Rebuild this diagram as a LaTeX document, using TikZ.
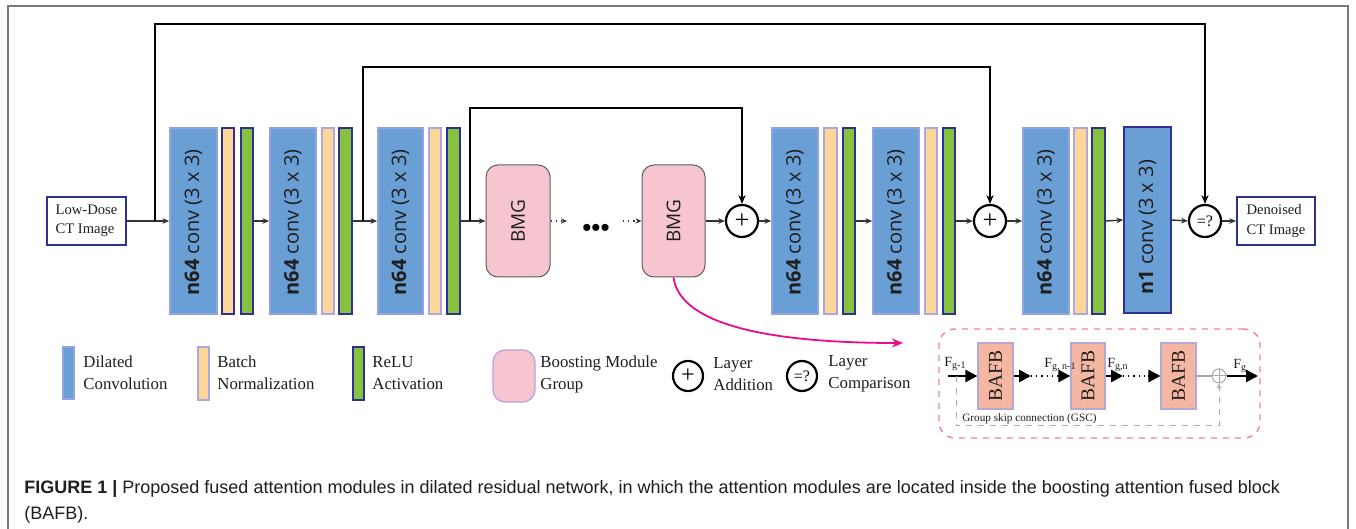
\documentclass[tikz,border=0pt]{standalone}
\usepackage{fontspec}
\setmainfont{Liberation Serif}
\newfontfamily\convfont{Open Sans}
\newfontfamily\capfont{Liberation Sans}
\usetikzlibrary{arrows.meta,fit}

\definecolor{convblue}{HTML}{6A9FD5}
\definecolor{convedge}{HTML}{93A3E2}
\definecolor{navy}{HTML}{2E3192}
\definecolor{bnyellow}{HTML}{FFD699}
\definecolor{bnedge}{HTML}{ADA6DF}
\definecolor{relugreen}{HTML}{86C13F}
\definecolor{bmgpink}{HTML}{F7C5D0}
\definecolor{bmgedge}{HTML}{5E5E5E}
\definecolor{legpinkedge}{HTML}{B7A3DC}
\definecolor{bafbfill}{HTML}{F5B7A2}
\definecolor{bafbedge}{HTML}{B3A9D8}
\definecolor{magentaline}{HTML}{EC0B8D}
\definecolor{insetpink}{HTML}{F27BB5}
\definecolor{framegray}{HTML}{7A7A7A}
\definecolor{wiregray}{HTML}{333333}
\definecolor{txtdark}{HTML}{1E1E1E}
\definecolor{skipgray}{HTML}{A8A8A8}

\begin{document}
\begin{tikzpicture}[x=0.5pt,y=-0.5pt,
  frame/.style={draw=framegray, line width=0.8pt},
  wire/.style={draw=wiregray, line width=0.7pt},
  arr/.style={wire, -{Stealth[length=3.4pt,width=2.8pt]}},
  dotarr/.style={draw=wiregray, line width=0.6pt, dotted, -{Stealth[length=3pt,width=2.6pt]}},
  skiparr/.style={draw=black, line width=0.7pt, -{Stealth[length=4.4pt,width=3.6pt]}},
  convbox/.style={fill=convblue, draw=convedge, line width=0.8pt, inner sep=0pt},
  convlast/.style={convbox, draw=navy},
  bnbox/.style={fill=bnyellow, draw=bnedge, line width=0.8pt, inner sep=0pt},
  bnfirst/.style={bnbox, draw=navy},
  relubox/.style={fill=relugreen, draw=navy, line width=0.8pt, inner sep=0pt},
  bmgbox/.style={fill=bmgpink, draw=bmgedge, line width=0.5pt, rounded corners=6pt, inner sep=0pt},
  imgbox/.style={draw=navy, line width=0.9pt, fill=white, inner sep=0pt},
  imgtxt/.style={font=\fontsize{7.3}{9.6}\selectfont, align=left, text=txtdark},
  convlbl/.style={rotate=90, anchor=west, inner sep=0pt,
    font=\convfont\fontsize{10}{12}\selectfont, text=txtdark},
  bmglbl/.style={rotate=90, inner sep=0pt, font=\convfont\fontsize{9.5}{11}\selectfont, text=txtdark},
  opnode/.style={circle, draw=black, line width=1.1pt, minimum size=16pt, inner sep=0pt, fill=white},
  legtxt/.style={anchor=west, inner sep=0pt, align=left, text=txtdark,
    font=\fontsize{8.4}{11}\selectfont},
  bafbbox/.style={fill=bafbfill, draw=bafbedge, line width=0.6pt, inner sep=0pt},
  bafblbl/.style={rotate=90, inner sep=0pt, font=\fontsize{9.8}{11}\selectfont, text=txtdark},
  bigarr/.style={draw=black, line width=1.3pt, -{Triangle[length=6pt,width=6pt]}},
  flbl/.style={inner sep=0pt, anchor=base west, font=\fontsize{7}{8}\selectfont, text=txtdark},
  captxt/.style={anchor=base west, inner sep=0pt, text=txtdark,
    font=\capfont\fontsize{9}{12.5}\selectfont}
]
\useasboundingbox (0,0) rectangle (1356,529);
\fill[white] (0,0) rectangle (1356,529);

% outer frame (open at the bottom)
\draw[frame] (8,529) -- (8,6) -- (1348,6) -- (1348,529);

% ---------- main network ----------
\node[imgbox, fit={(47,197) (126,245)}] (ld) {};
\node[imgtxt] at (ld.center) {Low-Dose\\CT Image};

\node[convbox, fit={(170,128) (217,314)}] (c1) {};
\node[bnfirst, fit={(222,128) (234,314)}] (b1) {};
\node[relubox, fit={(241,128) (253,314)}] (r1) {};

\node[convbox, fit={(270,128) (316,314)}] (c2) {};
\node[bnbox, fit={(322,128) (334,314)}] (b2) {};
\node[relubox, fit={(339,128) (352,314)}] (r2) {};

\node[convbox, fit={(378,128) (423,314)}] (c3) {};
\node[bnbox, fit={(429,128) (441,314)}] (b3) {};
\node[relubox, fit={(447,128) (460,314)}] (r3) {};

\node[bmgbox, fit={(486,165) (550,277)}] (g1) {};
\node[bmgbox, fit={(642,165) (705,277)}] (g2) {};
\node[bmglbl] at (g1.center) {BMG};
\node[bmglbl] at (g2.center) {BMG};
\node[inner sep=0pt, font=\capfont\fontsize{13}{13}\selectfont] (dots) at (596,230) {•••};

\node[opnode] (add1) at (742,221) {};
\node[font=\fontsize{13}{13}\selectfont, inner sep=0pt] at (add1.center) {+};

\node[convbox, fit={(772,128) (818,314)}] (c4) {};
\node[bnbox, fit={(824,128) (837,314)}] (b4) {};
\node[relubox, fit={(843,128) (855,314)}] (r4) {};

\node[convbox, fit={(873,128) (919,314)}] (c5) {};
\node[bnbox, fit={(925,128) (937,314)}] (b5) {};
\node[relubox, fit={(943,128) (955,314)}] (r5) {};

\node[opnode] (add2) at (990,221) {};
\node[font=\fontsize{13}{13}\selectfont, inner sep=0pt] at (add2.center) {+};

\node[convbox, fit={(1023,128) (1069,314)}] (c6) {};
\node[bnbox, fit={(1074,128) (1087,314)}] (b6) {};
\node[relubox, fit={(1092,128) (1105,314)}] (r6) {};

\node[convlast, fit={(1124,127) (1171,313)}] (c7) {};

\node[opnode] (cmp) at (1205,221) {};
\node[font=\fontsize{8}{8}\selectfont, inner sep=0pt] at (cmp.center) {=?};

\node[imgbox, fit={(1237,197) (1315,245)}] (out) {};
\node[imgtxt] at (out.center) {Denoised\\CT Image};

% layer labels, read from bottom to top
\foreach \c in {c1,c2,c3,c4,c5,c6}
  \node[convlbl] at ([yshift=9.5pt]\c.south) {\textbf{n64} conv (3 x 3)};
\node[convlbl] at ([yshift=9.5pt]c7.south) {\textbf{n1} conv (3 x 3)};

% forward connections
\draw[arr] (ld.east) -- (c1.west);
\draw[arr] (r1.east) -- (c2.west);
\draw[arr] (r2.east) -- (c3.west);
\draw[arr] (r3.east) -- (g1.west);
\coordinate (g1out) at (567,221);
\coordinate (g2in) at (623,221);
\draw[dotarr] (g1.east) -- (g1out);
\draw[dotarr] (g2in) -- (g2.west);
\draw[arr] (g2.east) -- (add1.west);
\draw[arr] (add1.east) -- (c4.west);
\draw[arr] (r4.east) -- (c5.west);
\draw[arr] (r5.east) -- (add2.west);
\draw[arr] (add2.east) -- (c6.west);
\draw[arr] (r6.east) -- (c7.west);
\draw[arr] (c7.east) -- (cmp.west);
\draw[arr] (cmp.east) -- (out.west);

% skip connections
\coordinate (s1) at (155,221);
\coordinate (s1top) at (155,24);
\coordinate (s2) at (363,221);
\coordinate (s2top) at (363,67);
\coordinate (s3) at (470,221);
\coordinate (s3top) at (470,108);
\draw[skiparr] (s1) -- (s1top) -| (cmp.north);
\draw[skiparr] (s2) -- (s2top) -| (add2.north);
\draw[skiparr] (s3) -- (s3top) -| (add1.north);

% ---------- zoom-in of a boosting module group ----------
\coordinate (magend) at (903,343);
\draw[magentaline, line width=0.9pt, -{Stealth[length=5.5pt,width=4.5pt]}]
  (g2.south) .. controls (680,325) and (770,343) .. (magend);

\node[draw=insetpink, dashed, line width=0.7pt, rounded corners=8pt, inner sep=0pt,
      fit={(939,329) (1260,438)}] (inset) {};

\node[bafbbox, fit={(978,343) (1013,409)}] (f1) {};
\node[bafbbox, fit={(1071,343) (1105,409)}] (f2) {};
\node[bafbbox, fit={(1161,343) (1196,409)}] (f3) {};
\node[bafblbl] at (f1.center) {BAFB};
\node[bafblbl] at (f2.center) {BAFB};
\node[bafblbl] at (f3.center) {BAFB};

\node[circle, draw=skipgray, line width=0.5pt, minimum size=7pt, inner sep=0pt] (gsum) at (1219,376) {};
\draw[skipgray, line width=0.5pt] (gsum.north) -- (gsum.south) (gsum.west) -- (gsum.east);

\coordinate (fin) at (948,376);
\coordinate (f1o) at (1031,376);
\coordinate (f2i) at (1057,376);
\coordinate (f2o) at (1123,376);
\coordinate (f3i) at (1148,376);
\coordinate (fout) at (1258,376);
\draw[bigarr] (fin) -- (f1.west);
\draw[bigarr] (f1.east) -- (f1o);
\draw[black, line width=0.6pt, dotted] (f1o) -- (f2i);
\draw[bigarr] (f2i) -- (f2.west);
\draw[bigarr] (f2.east) -- (f2o);
\draw[black, line width=0.6pt, dotted] (f2o) -- (f3i);
\draw[bigarr] (f3i) -- (f3.west);
\draw[skipgray, line width=0.9pt] (f3.east) -- (gsum.west);
\draw[bigarr] (gsum.east) -- (fout);

\coordinate (gsc) at (956,376);
\coordinate (gscbot) at (956,426);
\draw[skipgray, line width=0.5pt, dashed, -{Stealth[length=2.6pt,width=2.2pt]}]
  (gsc) -- (gscbot) -| (gsum.south);
\node[anchor=base west, inner sep=0pt, font=\fontsize{5.6}{6}\selectfont, text=txtdark]
  at (962,422) {Group skip connection (GSC)};

\node[flbl] at (944,367) {F\textsubscript{g-1}};
\node[flbl] at (1044,368) {F\textsubscript{g, n-1}};
\node[flbl] at (1107,368) {F\textsubscript{g,n}};
\node[flbl] at (1233,369) {F\textsubscript{g}};

% ---------- legend ----------
\node[convbox, fit={(63,347) (74,399)}] (lc) {};
\node[legtxt] at (83,373) {Dilated\\Convolution};
\node[bnbox, fit={(198,347) (209,400)}] (lb) {};
\node[legtxt] at (217,373) {Batch\\Normalization};
\node[relubox, fit={(353,347) (364,400)}] (lr) {};
\node[legtxt] at (372,373) {ReLU\\Activation};
\node[fill=bmgpink, draw=legpinkedge, line width=0.6pt, rounded corners=6pt, inner sep=0pt,
      fit={(493,350) (535,402)}] (lg) {};
\node[legtxt] at (540,374) {Boosting Module\\Group};
\node[opnode, minimum size=15pt] (la) at (688,376) {};
\node[font=\fontsize{12}{12}\selectfont, inner sep=0pt] at (la.center) {+};
\node[legtxt] at (713,374) {Layer\\Addition};
\node[opnode, minimum size=15pt] (lq) at (802,376) {};
\node[font=\fontsize{8}{8}\selectfont, inner sep=0pt] at (lq.center) {=?};
\node[legtxt] at (828,374) {Layer\\Comparison};

% ---------- caption ----------
\node[captxt] (cap1) at (24,494) {\textbf{FIGURE 1 |} Proposed fused attention modules in dilated residual network, in which the attention modules are located inside the boosting attention fused block};
\node[captxt] (cap2) at (24,519) {(BAFB).};

\end{tikzpicture}
\end{document}
